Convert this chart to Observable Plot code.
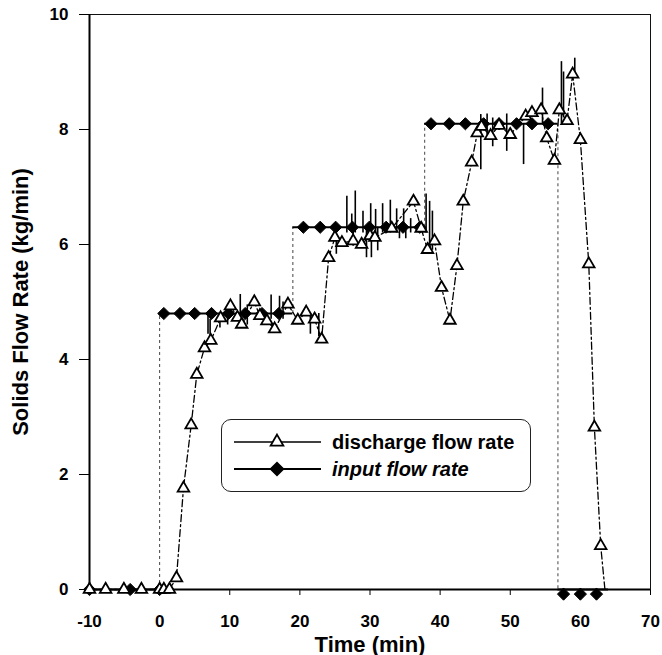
<!DOCTYPE html>
<html>
<head>
<meta charset="utf-8">
<script src="https://cdn.jsdelivr.net/npm/d3@7"></script>
<script src="https://cdn.jsdelivr.net/npm/@observablehq/plot@0.6"></script>
<style>
  html, body { margin: 0; padding: 0; background: #fff; }
  #wrap { position: relative; width: 662px; height: 655px; font-family: "Liberation Sans", Arial, Helvetica, sans-serif; }
  #legend { position: absolute; left: 221px; top: 419px; width: 308px; height: 71px; border: 1.5px solid #222; border-radius: 10px; background: #fff; }
  #legend svg { position: absolute; left: 0; top: 0; }
</style>
</head>
<body>
<div id="wrap"></div>
<script>
// ---- data ----
const xTicks = [-10, 0, 10, 20, 30, 40, 50, 60, 70];
const yTicks = [0, 2, 4, 6, 8, 10];

// discharge flow rate (triangles)
const dischargeTime  = [-10, -7.7, -5.1, -2.6, 0, 0.6, 1.4, 2.4, 3.4, 4.5, 5.3, 6.4, 7.3, 8.7, 10.1, 11.1, 11.7, 13.5, 14.3, 15.3, 16.4, 18.3, 19.7, 20.9, 22.1, 23.1, 24.1, 25.0, 26.0, 27.6, 28.8, 30.0, 30.7, 33.1, 36.2, 37.3, 38.2, 39.2, 40.2, 41.4, 42.4, 43.3, 44.5, 45.3, 45.9, 47.2, 48.4, 50.0, 52.2, 53.1, 54.4, 55.2, 56.3, 57.0, 58.1, 58.9, 60.0, 61.2, 62.0, 62.9, 63.5];
const dischargeValue = [0, 0, 0, 0, 0, 0, 0, 0.2, 1.76, 2.86, 3.74, 4.2, 4.33, 4.72, 4.93, 4.73, 4.61, 5.0, 4.76, 4.67, 4.53, 4.96, 4.68, 4.82, 4.7, 4.35, 5.77, 6.12, 6.03, 6.06, 6.0, 6.15, 6.12, 6.28, 6.75, 6.28, 5.91, 6.06, 5.25, 4.68, 5.63, 6.75, 7.43, 7.94, 8.05, 7.89, 8.07, 7.91, 8.23, 8.29, 8.34, 7.85, 7.46, 8.34, 8.15, 8.96, 7.82, 5.66, 2.82, 0.76, 0];
const dischargeMarked = dischargeTime.map((t, i) => i < dischargeTime.length - 1);

// noise spikes on the discharge trace: time, low, high
const spikeTime = [6.9, 7.2, 8.6, 9.7, 11.5, 12.5, 15.9, 17.1, 17.6, 21.5, 22.7, 25.2, 26.7, 27.4, 27.6, 27.9, 29.0, 29.5, 30.1, 30.2, 30.8, 31.1, 31.8, 32.9, 33.8, 34.2, 34.8, 35.1, 35.8, 38.0, 38.5, 38.9, 45.8, 46.7, 47.5, 49.5, 51.9, 54.6, 57.3, 57.6, 59.2];
const spikeLow  = [4.44, 4.3, 4.55, 4.6, 4.7, 4.6, 4.7, 4.75, 4.7, 4.44, 4.4, 5.83, 6.2, 6.2, 5.97, 6.2, 6.2, 5.77, 6.2, 5.77, 6.2, 5.89, 6.2, 6.2, 6.2, 6.1, 6.2, 6.1, 6.2, 6.2, 6.0, 5.9, 7.3, 7.9, 7.7, 7.62, 7.39, 8.1, 8.1, 8.2, 8.9];
const spikeHigh = [4.8, 4.7, 4.8, 4.85, 5.13, 4.95, 5.12, 5.1, 5.0, 4.8, 4.8, 6.3, 6.84, 6.53, 6.3, 6.93, 6.58, 6.3, 6.71, 6.3, 6.61, 6.3, 6.71, 6.77, 6.62, 6.3, 6.62, 6.3, 6.45, 6.88, 6.75, 6.58, 8.26, 8.27, 8.2, 8.27, 8.1, 8.72, 9.18, 9.0, 9.24];

// input flow rate (step function with diamonds)
const stepStart = [-10, 0, 19.0, 37.8, 56.8];
const stepEnd   = [0, 19.0, 37.8, 56.8, 64];
const stepValue = [0, 4.8, 6.3, 8.1, 0];
const inputTime  = [-10, -4.2, 0.0, 0.6, 2.9, 5.0, 7.4, 9.8, 12.2, 14.6, 17.0, 20.5, 22.9, 25.1, 27.5, 29.9, 32.3, 34.7, 37.1, 38.7, 41.3, 43.6, 46.2, 48.4, 50.9, 53.1, 55.4, 57.6, 60.0, 62.3];
const inputValue = [0, 0, 0, 4.8, 4.8, 4.8, 4.8, 4.8, 4.8, 4.8, 4.8, 6.3, 6.3, 6.3, 6.3, 6.3, 6.3, 6.3, 6.3, 8.1, 8.1, 8.1, 8.1, 8.1, 8.1, 8.1, 8.1, -0.08, -0.08, -0.08];

const seriesNames = ["discharge flow rate", "input flow rate"];
const xTitle = "Time (min)";
const yTitle = "Solids Flow Rate (kg/min)";

// ---- tables built from the arrays ----
const discharge = dischargeTime.map((t, i) => ({t, v: dischargeValue[i], marked: dischargeMarked[i]}));
const spikes = spikeTime.map((t, i) => ({t, lo: spikeLow[i], hi: spikeHigh[i]}));
const steps = stepStart.map((s, i) => ({s, e: stepEnd[i], v: stepValue[i]}));
const risers = stepStart.slice(1).map((s, i) => ({t: s, a: stepValue[i], b: stepValue[i + 1]}));
const input = inputTime.map((t, i) => ({t, v: inputValue[i]}));

const font = '"Liberation Sans", Arial, Helvetica, sans-serif';

const chart = Plot.plot({
  width: 662,
  height: 655,
  marginLeft: 89,
  marginRight: 12,
  marginTop: 14,
  marginBottom: 66,
  style: {fontFamily: font, fontWeight: "bold", fontSize: "17px", color: "#000", background: "#fff", overflow: "visible"},
  x: {domain: [-10, 70], ticks: xTicks, tickSize: 6, tickPadding: 19, label: xTitle, labelArrow: "none", labelAnchor: "center", labelOffset: 62, tickFormat: d => d < 0 ? "-" + Math.abs(d) : String(d)},
  y: {domain: [0, 10], ticks: yTicks, tickSize: 10, tickPadding: 11, label: yTitle, labelArrow: "none", labelAnchor: "center", labelOffset: 77},
  marks: [
    Plot.frame({stroke: "#111", strokeWidth: 1}),
    Plot.ruleX([-10], {stroke: "#000", strokeWidth: 2}),
    // input step function
    Plot.ruleX(risers, {x: "t", y1: "a", y2: "b", stroke: "#444", strokeWidth: 1, strokeDasharray: "3,3"}),
    Plot.ruleY(steps, {y: "v", x1: "s", x2: "e", stroke: "#000", strokeWidth: 2.2}),
    // discharge trace
    Plot.line(discharge, {x: "t", y: "v", stroke: "#000", strokeWidth: 1.3, strokeDasharray: "7,3,2,3"}),
    Plot.ruleX(spikes, {x: "t", y1: "lo", y2: "hi", stroke: "#000", strokeWidth: 1.6}),
    Plot.ruleY([0], {stroke: "#000", strokeWidth: 2.2}),
    Plot.dot(input, {x: "t", y: "v", symbol: "diamond2", r: 5.5, fill: "#000", stroke: "#000", strokeWidth: 1}),
    Plot.dot(discharge.filter(d => d.marked), {x: "t", y: "v", symbol: "triangle", r: 4.3, fill: "#fff", stroke: "#000", strokeWidth: 1.8})
  ]
});

// axis titles: larger, no arrows
chart.querySelectorAll('[aria-label="x-axis label"] text, [aria-label="y-axis label"] text').forEach(t => {
  t.setAttribute("font-size", "22px");
  t.textContent = t.textContent.replace(/\s*[→←↑↓]\s*/g, "").trim();
});

const wrap = document.getElementById("wrap");
wrap.appendChild(chart);

// legend overlay
const legend = document.createElement("div");
legend.id = "legend";
const lsvg = d3.create("svg").attr("width", 308).attr("height", 71);
const rows = [
  {name: seriesNames[0], y: 22, sym: "triangle", fill: "#fff", style: "normal", w: 1.5},
  {name: seriesNames[1], y: 49, sym: "diamond", fill: "#000", style: "italic", w: 2}
];
rows.forEach(r => {
  lsvg.append("line").attr("x1", 12).attr("x2", 99).attr("y1", r.y).attr("y2", r.y).attr("stroke", "#000").attr("stroke-width", r.w);
  const sym = r.sym === "triangle"
    ? d3.symbol(d3.symbolTriangle, 70)()
    : d3.symbol(d3.symbolSquare, 80)();
  lsvg.append("path").attr("d", sym)
    .attr("transform", `translate(55,${r.y})` + (r.sym === "diamond" ? " rotate(45)" : ""))
    .attr("fill", r.fill).attr("stroke", "#000").attr("stroke-width", 1.8);
  lsvg.append("text").attr("x", 110).attr("y", r.y).attr("dy", "0.35em")
    .attr("font-family", font).attr("font-weight", "bold").attr("font-style", r.style)
    .attr("font-size", "20px").text(r.name);
});
legend.appendChild(lsvg.node());
wrap.appendChild(legend);
</script>
</body>
</html>
